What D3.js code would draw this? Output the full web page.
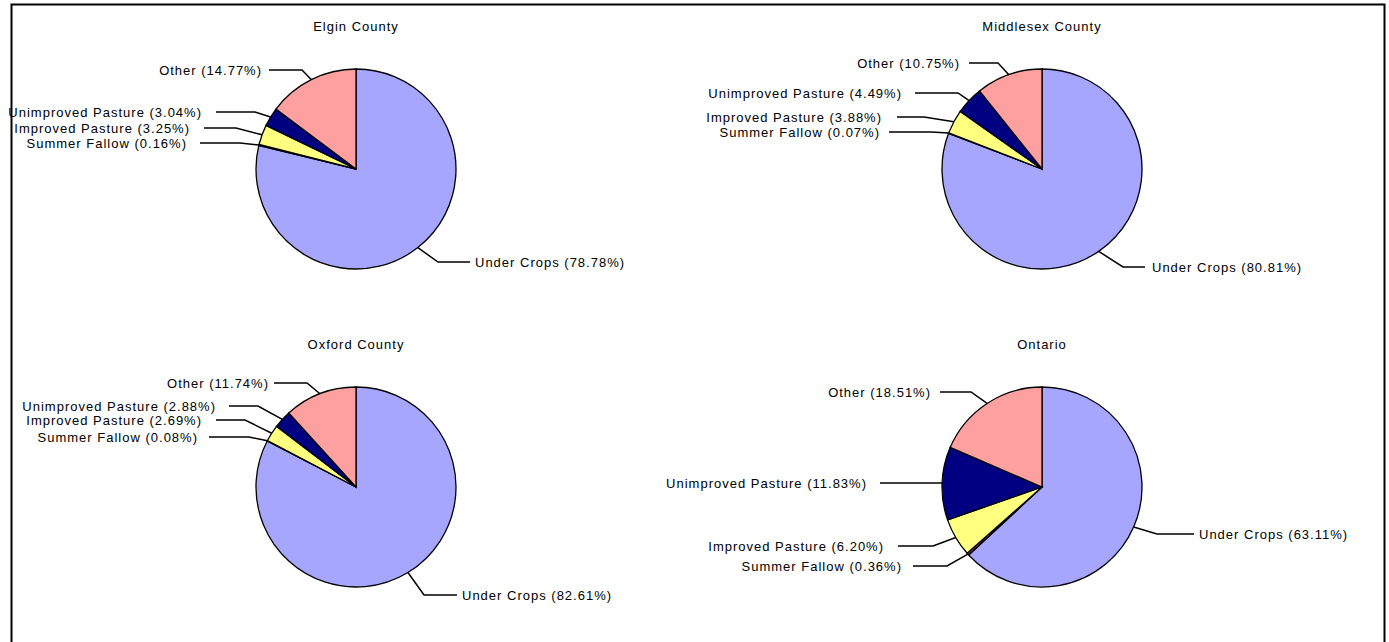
<!DOCTYPE html>
<html lang="en">
<head>
<meta charset="utf-8">
<title>Farm land use pies</title>
<script src="https://cdn.jsdelivr.net/npm/d3@7"></script>
<style>
  body { margin: 0; background: #fff; }
  .lbl, .ttl {
    font-family: Arial, "Liberation Sans", sans-serif;
    font-size: 13px;
    letter-spacing: 1px;
    fill: #000;
  }
  .slice { stroke: #000; stroke-width: 1.3; }
  .leader { fill: none; stroke: #000; stroke-width: 1.5; }
</style>
</head>
<body>
<div id="chart"></div>
<script>
// data
var categories = ["Under Crops", "Summer Fallow", "Improved Pasture", "Unimproved Pasture", "Other"];
var regions = ["Elgin County", "Middlesex County", "Oxford County", "Ontario"];
var elgin = [78.78, 0.16, 3.25, 3.04, 14.77];
var middlesex = [80.81, 0.07, 3.88, 4.49, 10.75];
var oxford = [82.61, 0.08, 2.69, 2.88, 11.74];
var ontario = [63.11, 0.36, 6.20, 11.83, 18.51];
var seriesValues = [elgin, middlesex, oxford, ontario];

var colors = ["#a6a6ff", "#993366", "#ffff80", "#000080", "#ffa0a0"];

var width = 1389, height = 642, radius = 100;
var colX = [356, 1042], rowY = [169, 487];

// label placement per pie, offsets from the pie centre
// tx/ty = text anchor, lx = where the leader starts, ex = leader elbow
var labelLayout = [
  [ {tx: 119, ty: 93, lx: 114, ex: 82},
    {tx: -169, ty: -26, lx: -156, ex: -116},
    {tx: -166, ty: -41, lx: -152, ex: -120},
    {tx: -154, ty: -57, lx: -140, ex: -101},
    {tx: -94, ty: -99, lx: -87, ex: -54} ],
  [ {tx: 110, ty: 98, lx: 103, ex: 81},
    {tx: -162, ty: -37, lx: -153, ex: -111},
    {tx: -160, ty: -52, lx: -145, ex: -118},
    {tx: -140, ty: -76, lx: -127, ex: -84},
    {tx: -82, ty: -106, lx: -73, ex: -44} ],
  [ {tx: 106, ty: 108, lx: 101, ex: 68},
    {tx: -158, ty: -50, lx: -147, ex: -107},
    {tx: -154, ty: -67, lx: -140, ex: -111},
    {tx: -140, ty: -81, lx: -127, ex: -98},
    {tx: -87, ty: -104, lx: -82, ex: -49} ],
  [ {tx: 157, ty: 47, lx: 152, ex: 115},
    {tx: -140, ty: 79, lx: -129, ex: -95},
    {tx: -158, ty: 59, lx: -144, ex: -109},
    {tx: -175, ty: -4, lx: -162, ex: -100},
    {tx: -111, ty: -95, lx: -102, ex: -71} ]
];

var svg = d3.select("#chart").append("svg")
    .attr("width", width)
    .attr("height", height);

svg.append("rect")
    .attr("x", 11.5).attr("y", 4.5)
    .attr("width", 1373).attr("height", 700)
    .attr("fill", "none")
    .attr("stroke", "#000")
    .attr("stroke-width", 2);

var pie = d3.pie().sort(null).value(function(d) { return d; });
var arc = d3.arc().innerRadius(0).outerRadius(radius);

regions.forEach(function(name, i) {
  var cx = colX[i % 2], cy = rowY[Math.floor(i / 2)];
  var g = svg.append("g").attr("transform", "translate(" + cx + "," + cy + ")");
  var arcs = pie(seriesValues[i]);

  g.append("text")
      .attr("class", "ttl")
      .attr("x", 0).attr("y", -143)
      .attr("text-anchor", "middle")
      .attr("dy", "0.35em")
      .text(name);

  g.selectAll("path.slice")
      .data(arcs)
      .enter().append("path")
      .attr("class", "slice")
      .attr("fill", function(d, j) { return colors[j]; })
      .attr("d", arc);

  arcs.forEach(function(d, j) {
    var L = labelLayout[i][j];
    var a = (d.startAngle + d.endAngle) / 2;
    var px = radius * Math.sin(a), py = -radius * Math.cos(a);
    g.append("polyline")
        .attr("class", "leader")
        .attr("points", [[px, py], [L.ex, L.ty], [L.lx, L.ty]].join(" "));
    g.append("text")
        .attr("class", "lbl")
        .attr("x", L.tx).attr("y", L.ty)
        .attr("dy", "0.35em")
        .attr("text-anchor", L.tx > 0 ? "start" : "end")
        .text(categories[j] + " (" + d.data.toFixed(2) + "%)");
  });
});
</script>
</body>
</html>
